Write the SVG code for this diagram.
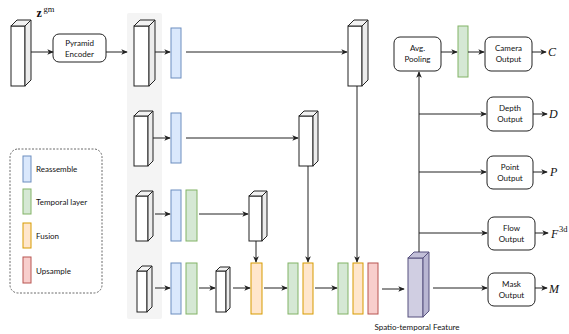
<svg xmlns="http://www.w3.org/2000/svg" width="569" height="334" viewBox="0 0 569 334">
  <style>
    .txt { font-family: Lato, "Noto Sans", "Liberation Sans", sans-serif; font-size: 8px; fill: #111; text-anchor: middle; }
    .leg { font-family: Lato, "Noto Sans", "Liberation Sans", sans-serif; font-size: 8px; fill: #111; }
    .math { font-family: "Liberation Serif", "DejaVu Serif", serif; font-style: italic; font-size: 12px; fill: #111; }
    .box { fill: #fff; stroke: #222; stroke-width: 1; }
    .front { fill: #fff; stroke: #222; stroke-width: 1; }
    .top { fill: #f2f2f2; stroke: #222; stroke-width: 1; stroke-linejoin: round; }
    .side { fill: #ececec; stroke: #222; stroke-width: 1; stroke-linejoin: round; }
    .pfront { fill: #d0cee2; stroke: #56517e; stroke-width: 1; }
    .ptop { fill: #c2bfd8; stroke: #56517e; stroke-width: 1; stroke-linejoin: round; }
    .pside { fill: #b9b6d2; stroke: #56517e; stroke-width: 1; stroke-linejoin: round; }
    .blue { fill: #dae8fc; stroke: #6c8ebf; stroke-width: 1; }
    .green { fill: #d5e8d4; stroke: #82b366; stroke-width: 1; }
    .orange { fill: #ffe6cc; stroke: #d79b00; stroke-width: 1; }
    .red { fill: #f8cecc; stroke: #b85450; stroke-width: 1; }
    .arr { fill: none; stroke: #222; stroke-width: 1; marker-end: url(#ah); }
  </style>
  <defs>
    <marker id="ah" viewBox="0 0 8 8" refX="7" refY="4" markerWidth="6.5" markerHeight="6.5" markerUnits="userSpaceOnUse" orient="auto">
      <path d="M0,0.5 L8,4 L0,7.5 L2,4 z" fill="#222"/>
    </marker>
  </defs>

  <!-- shaded backdrop behind the encoder feature column -->
  <rect id="feature-column" x="127" y="13" width="35" height="306" rx="2" fill="#f4f4f4"/>

  <!-- input volume -->
  <g id="input">
    <rect class="front" x="11" y="26" width="14" height="60"/>
    <polygon class="top" points="11,26 17,20 31,20 25,26"/>
    <polygon class="side" points="25,26 31,20 31,80 25,86"/>
    <text x="36.5" y="17" font-family="Liberation Serif, DejaVu Serif, serif" font-weight="bold" font-size="12" fill="#111">z</text>
    <text x="43.5" y="12" font-family="Liberation Serif, DejaVu Serif, serif" font-size="8.5" fill="#111">gm</text>
  </g>

  <g id="pyramid-encoder">
    <rect class="box" x="53" y="34" width="53" height="28" rx="6"/>
    <text class="txt" x="79.5" y="46">Pyramid</text>
    <text class="txt" x="79.5" y="57">Encoder</text>
  </g>

  <!-- encoder features, one per pyramid level -->
  <g id="feat-1">
    <rect class="front" x="134" y="26" width="15" height="60"/>
    <polygon class="top" points="134,26 140,20 155,20 149,26"/>
    <polygon class="side" points="149,26 155,20 155,80 149,86"/>
  </g>
  <g id="feat-2">
    <rect class="front" x="134" y="116" width="14" height="50"/>
    <polygon class="top" points="134,116 139,111 153,111 148,116"/>
    <polygon class="side" points="148,116 153,111 153,161 148,166"/>
  </g>
  <g id="feat-3">
    <rect class="front" x="136" y="196" width="12" height="45"/>
    <polygon class="top" points="136,196 141,191 153,191 148,196"/>
    <polygon class="side" points="148,196 153,191 153,236 148,241"/>
  </g>
  <g id="feat-4">
    <rect class="front" x="137" y="271" width="10" height="41"/>
    <polygon class="top" points="137,271 142,266 152,266 147,271"/>
    <polygon class="side" points="147,271 152,266 152,307 147,312"/>
  </g>

  <!-- reassemble / temporal blocks -->
  <g id="reassemble-1"><rect class="blue" x="171" y="28" width="10" height="50"/></g>
  <g id="reassemble-2"><rect class="blue" x="171" y="113" width="10" height="50"/></g>
  <g id="reassemble-3"><rect class="blue" x="171" y="190" width="10" height="51"/></g>
  <g id="temporal-3"><rect class="green" x="186" y="190" width="11" height="51"/></g>
  <g id="reassemble-4"><rect class="blue" x="171" y="263" width="10" height="51"/></g>
  <g id="temporal-4"><rect class="green" x="186" y="263" width="11" height="51"/></g>

  <!-- reassembled volumes -->
  <g id="vol-1">
    <rect class="front" x="348" y="26" width="14" height="60"/>
    <polygon class="top" points="348,26 354,20 368,20 362,26"/>
    <polygon class="side" points="362,26 368,20 368,80 362,86"/>
  </g>
  <g id="vol-2">
    <rect class="front" x="299" y="116" width="14" height="50"/>
    <polygon class="top" points="299,116 304,111 318,111 313,116"/>
    <polygon class="side" points="313,116 318,111 318,161 313,166"/>
  </g>
  <g id="vol-3">
    <rect class="front" x="249" y="196" width="13" height="45"/>
    <polygon class="top" points="249,196 254,191 267,191 262,196"/>
    <polygon class="side" points="262,196 267,191 267,236 262,241"/>
  </g>
  <g id="vol-4">
    <rect class="front" x="216" y="271" width="10" height="41"/>
    <polygon class="top" points="216,271 220,267 230,267 226,271"/>
    <polygon class="side" points="226,271 230,267 230,308 226,312"/>
  </g>

  <!-- fusion chain -->
  <g id="fusion-1"><rect class="orange" x="251" y="263" width="11" height="51"/></g>
  <g id="temporal-5"><rect class="green" x="288" y="263" width="10" height="51"/></g>
  <g id="fusion-2"><rect class="orange" x="303" y="263" width="10" height="51"/></g>
  <g id="temporal-6"><rect class="green" x="338" y="263" width="10" height="51"/></g>
  <g id="fusion-3"><rect class="orange" x="353" y="263" width="10" height="51"/></g>
  <g id="upsample"><rect class="red" x="368" y="263" width="10" height="51"/></g>

  <g id="spatio-temporal-feature">
    <rect class="pfront" x="408" y="258" width="15" height="59"/>
    <polygon class="ptop" points="408,258 414,252 429,252 423,258"/>
    <polygon class="pside" points="423,258 429,252 429,311 423,317"/>
    <text class="txt" x="417" y="330">Spatio-temporal Feature</text>
  </g>

  <!-- heads -->
  <g id="avg-pooling">
    <rect class="box" x="394" y="37" width="47" height="34" rx="6"/>
    <text class="txt" x="417.5" y="51">Avg.</text>
    <text class="txt" x="417.5" y="62">Pooling</text>
  </g>
  <g id="camera-temporal"><rect class="green" x="458" y="26" width="10" height="51"/></g>
  <g id="camera-output">
    <rect class="box" x="485" y="37" width="47" height="34" rx="6"/>
    <text class="txt" x="508.5" y="51">Camera</text>
    <text class="txt" x="508.5" y="62">Output</text>
    <text class="math" x="548" y="56">C</text>
  </g>
  <g id="depth-output">
    <rect class="box" x="487" y="97" width="46" height="34" rx="6"/>
    <text class="txt" x="510" y="111">Depth</text>
    <text class="txt" x="510" y="122">Output</text>
    <text class="math" x="549" y="118">D</text>
  </g>
  <g id="point-output">
    <rect class="box" x="487" y="156" width="46" height="33" rx="6"/>
    <text class="txt" x="510" y="170">Point</text>
    <text class="txt" x="510" y="181">Output</text>
    <text class="math" x="550" y="176">P</text>
  </g>
  <g id="flow-output">
    <rect class="box" x="488" y="217" width="47" height="33" rx="6"/>
    <text class="txt" x="511.5" y="231">Flow</text>
    <text class="txt" x="511.5" y="242">Output</text>
    <text class="math" x="551" y="238">F</text>
    <text x="559" y="232" font-family="Liberation Serif, DejaVu Serif, serif" font-size="8.5" fill="#111">3d</text>
  </g>
  <g id="mask-output">
    <rect class="box" x="488" y="273" width="47" height="33" rx="6"/>
    <text class="txt" x="511.5" y="287">Mask</text>
    <text class="txt" x="511.5" y="298">Output</text>
    <text class="math" x="549" y="293">M</text>
  </g>

  <!-- legend -->
  <g id="legend">
    <rect x="10" y="149" width="92" height="144" rx="8" fill="none" stroke="#444" stroke-width="0.8" stroke-dasharray="2,1.5"/>
    <rect class="blue" x="23" y="156" width="8" height="26"/>
    <text class="leg" x="36" y="172">Reassemble</text>
    <rect class="green" x="23" y="189" width="8" height="25"/>
    <text class="leg" x="36" y="205">Temporal layer</text>
    <rect class="orange" x="23" y="223" width="8" height="25"/>
    <text class="leg" x="36" y="239">Fusion</text>
    <rect class="red" x="23" y="257" width="8" height="26"/>
    <text class="leg" x="36" y="274">Upsample</text>
  </g>

  <g id="connectors">
    <path class="arr" d="M31,52 H53"/>
    <path class="arr" d="M106,52 H127"/>
    <path class="arr" d="M155,52 H170"/>
    <path class="arr" d="M186,52 H347"/>
    <path class="arr" d="M153,138 H170"/>
    <path class="arr" d="M186,138 H298"/>
    <path class="arr" d="M155,214 H170"/>
    <path class="arr" d="M199,214 H248"/>
    <path class="arr" d="M155,288 H170"/>
    <path class="arr" d="M199,288 H215"/>
    <path class="arr" d="M233,288 H250"/>
    <path class="arr" d="M264,288 H287"/>
    <path class="arr" d="M315,288 H337"/>
    <path class="arr" d="M382,289 H404"/>
    <path class="arr" d="M256,241 V262"/>
    <path class="arr" d="M308,166 V262"/>
    <path class="arr" d="M357,86 V262"/>
    <path class="arr" d="M419,252 V72"/>
    <path class="arr" d="M441,52 H457"/>
    <path class="arr" d="M468,52 H484"/>
    <path class="arr" d="M532,52 H546"/>
    <path class="arr" d="M419,114 H486"/>
    <path class="arr" d="M533,114 H547"/>
    <path class="arr" d="M419,172 H486"/>
    <path class="arr" d="M533,172 H547"/>
    <path class="arr" d="M419,233 H487"/>
    <path class="arr" d="M535,233 H548"/>
    <path class="arr" d="M433,288 H487"/>
    <path class="arr" d="M535,288 H547"/>
  </g>
</svg>
